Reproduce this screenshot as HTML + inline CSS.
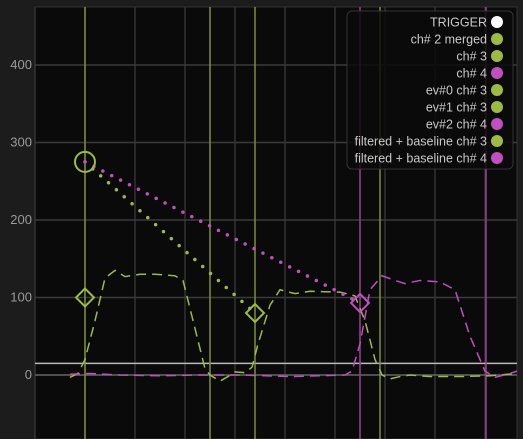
<!DOCTYPE html>
<html><head><meta charset="utf-8"><style>
body{margin:0;background:#1c1c1c;width:523px;height:439px;overflow:hidden;font-family:"Liberation Sans",sans-serif}
svg{display:block}
</style></head><body>
<svg id="chart" width="523" height="439">
<rect x="0" y="0" width="523" height="439" fill="#1c1c1c"/>
<rect x="35" y="7" width="482" height="432" fill="#0a0a0a" stroke="#333"/>
<g id="grid"></g><g id="series"></g><g id="legend"></g>
</svg>
<script>
const yTicks=[0,100,200,300,400];
const xGrid=[0,10,20,30,40,50,60,70,80,90];
const olLines=[10,35,44,69];
const mgLines=[65,90.2];
const threshold=15;
const ch3X=[7,8.6,10,12,14,16,18,21,24,28,29.6,32,34,35,37,38.6,40,42,43.4,44.6,47,49,52,55,61,64,66,68,69.4,71,73,75,79,85,91,96.4];
const ch3Y=[-3,2,20,70,125,135,127,130,130,128,122,60,8,0,-8,-2,4,3,10,40,90,110,105,108,107,102,70,20,0,-5,-2,0,-2,-2,-1,2];
const ch4X=[7,11,17,25,33,41,51,57,62,63.4,65,67,69.4,72,74,77,81,84,87,90,92,95,96.4];
const ch4Y=[1,2,0,-1,0,0,-2,-1,0,5,40,110,128,122,118,122,120,110,50,5,-3,2,5];
const dotG=[[10,275],[44,80]];
const dotM=[[10,275],[65,93]];
const legendLabels=["TRIGGER","ch# 2 merged","ch# 3","ch# 4","ev#0 ch# 3","ev#1 ch# 3","ev#2 ch# 4","filtered + baseline ch# 3","filtered + baseline ch# 4"];
const legendColors=["#fff","#9bbb45","#9bbb45","#c04fc0","#9bbb45","#9bbb45","#c04fc0","#9bbb45","#c04fc0"];
const G="#9bbb45",M="#c04fc0";
const X=v=>35+v*5, Y=v=>375-v*0.775;
const NS="http://www.w3.org/2000/svg";
function mk(p,t,a){const e=document.createElementNS(NS,t);for(const k in a)e.setAttribute(k,a[k]);p.appendChild(e);return e;}
const grid=document.getElementById('grid'),ser=document.getElementById('series'),leg=document.getElementById('legend');
xGrid.forEach(v=>{const l=mk(grid,'line',{x1:X(v),x2:X(v),y1:7,y2:439,stroke:'#333','stroke-width':1.5});

});
yTicks.forEach(v=>{const l=mk(grid,'line',{x1:35,x2:517,y1:Y(v),y2:Y(v),stroke:v==0?'#666':'#3a3a3a','stroke-width':1.5});


const t=mk(grid,'text',{x:32,y:Y(v)+4,'text-anchor':'end',fill:'#9a9a9a','font-size':13});t.textContent=v;

});
const th=mk(ser,'line',{x1:35,x2:517,y1:Y(threshold),y2:Y(threshold),stroke:'#bbb','stroke-width':1.5});


olLines.forEach(v=>{const l=mk(ser,'line',{x1:X(v),x2:X(v),y1:7,y2:439,stroke:'#7d8f35','stroke-width':1.5});

});
mgLines.forEach(v=>{const l=mk(ser,'line',{x1:X(v),x2:X(v),y1:7,y2:439,stroke:'#9a3f98','stroke-width':1.5});

});
function path(xs,ys){return xs.map((x,i)=>(i?'L':'M')+X(x)+','+Y(ys[i])).join('');}
const p3=mk(ser,'path',{d:path(ch3X,ch3Y),fill:'none',stroke:G,'stroke-width':1.5,'stroke-dasharray':'10,6'});


const p4=mk(ser,'path',{d:path(ch4X,ch4Y),fill:'none',stroke:M,'stroke-width':1.5,'stroke-dasharray':'10,6'});


const dg=mk(ser,'line',{x1:X(dotG[0][0]),y1:Y(dotG[0][1]),x2:X(dotG[1][0]),y2:Y(dotG[1][1]),stroke:G,'stroke-width':3.5,'stroke-linecap':'round','stroke-dasharray':'0,10.5'});


const dm=mk(ser,'line',{x1:X(dotM[0][0]),y1:Y(dotM[0][1]),x2:X(dotM[1][0]),y2:Y(dotM[1][1]),stroke:M,'stroke-width':3.5,'stroke-linecap':'round','stroke-dasharray':'0,10'});


const c=mk(ser,'circle',{cx:X(10),cy:Y(275),r:10,fill:'none',stroke:G,'stroke-width':2});


function dia(x,y,col,n){const px=X(x),py=Y(y);const d=mk(ser,'path',{d:`M${px-9},${py}L${px},${py-9}L${px+9},${py}L${px},${py+9}Z`,fill:'none',stroke:col,'stroke-width':2});

}
dia(10,100,G,'ev0-marker');dia(44,80,G,'ev1-marker');dia(65,93,M,'ev2-marker');
const box=mk(leg,'rect',{x:347,y:11,width:166,height:158,rx:5,fill:'rgba(10,10,10,0.85)',stroke:'#333'});


legendLabels.forEach((s,i)=>{const y=22+i*17;
const t=mk(leg,'text',{x:487,y:y+4.5,'text-anchor':'end',fill:'#c8c8c8','font-size':12.5});t.textContent=s;


const d=mk(leg,'circle',{cx:497,cy:y,r:6,fill:legendColors[i]});

});
</script>
</body></html>
